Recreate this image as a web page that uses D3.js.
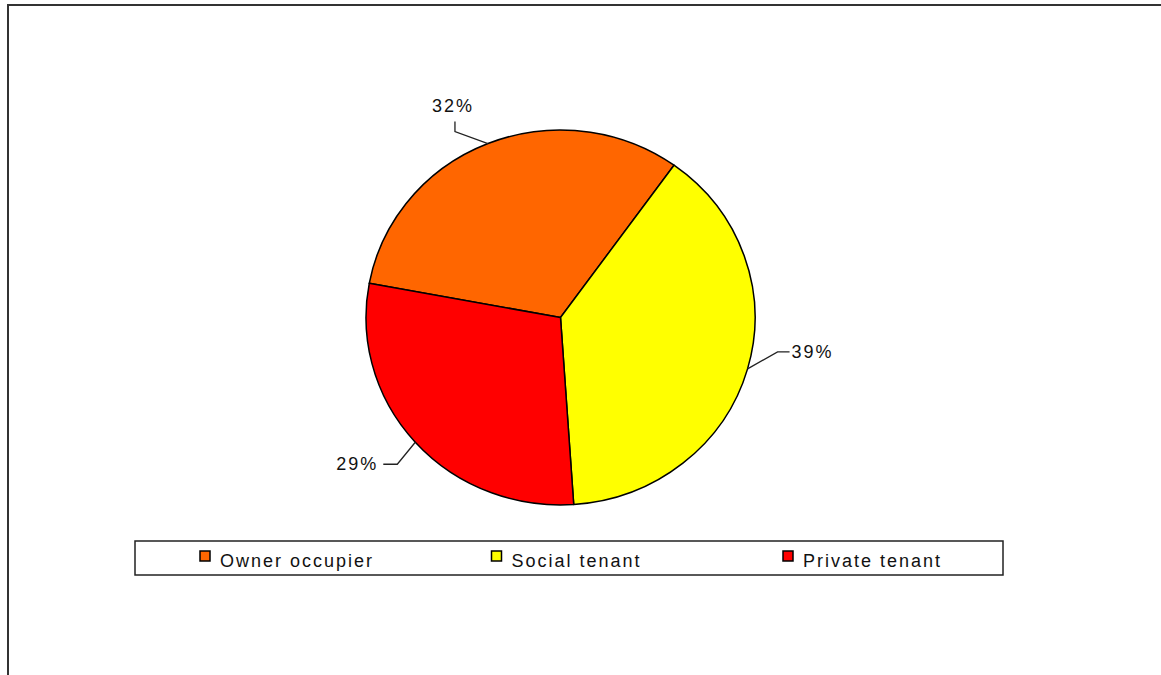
<!DOCTYPE html>
<html><head><meta charset="utf-8">
<script src="https://cdn.jsdelivr.net/npm/d3@7"></script>
<style>
html,body{margin:0;padding:0;background:#fff;}
text{font-family:"Liberation Sans",Arial,sans-serif;fill:#111;}
</style></head>
<body>
<svg id="chart" width="1161" height="675"></svg>
<script>
const categories = ["Owner occupier", "Social tenant", "Private tenant"];
const values = [32, 39, 29];
const labels = ["32%", "39%", "29%"];
const colors = ["#FF6600", "#FFFF00", "#FF0000"];

const svg = d3.select("#chart");

// outer frame
svg.append("rect").attr("x", 8).attr("y", 5).attr("width", 1170).attr("height", 700)
  .attr("fill", "#fff").attr("stroke", "#333").attr("stroke-width", 2);

const cx = 560.5, cy = 317.5, rx = 194.5, ry = 187.5;
const start = -79.5 * Math.PI / 180;
const pie = d3.pie().sort(null).value(d => d).startAngle(start).endAngle(start + 2 * Math.PI);
const arcs = pie(values);
const arc = d3.arc().innerRadius(0).outerRadius(ry);

const g = svg.append("g").attr("transform", `translate(${cx},${cy}) scale(${rx / ry},1)`);
g.selectAll("path").data(arcs).join("path")
  .attr("d", arc)
  .attr("fill", (d, i) => colors[i])
  .attr("stroke", "#000").attr("stroke-width", 1.5)
  .attr("vector-effect", "non-scaling-stroke")
  .attr("stroke-linejoin", "round");

// labels with leader lines
const leaders = [
  { elbow: [-33, -12], tail: [0, -10], anchor: "middle", tx: -2, ty: -10 },
  { elbow: [30, -17], tail: [12, 0], anchor: "start", tx: 2, ty: 6 },
  { elbow: [-18, 22], tail: [-14, 0], anchor: "end", tx: -5, ty: 6 }
];
arcs.forEach((d, i) => {
  const a = (d.startAngle + d.endAngle) / 2;
  const px = cx + rx * Math.sin(a), py = cy - ry * Math.cos(a);
  const L = leaders[i];
  const ex = px + L.elbow[0], ey = py + L.elbow[1];
  const tx = ex + L.tail[0], ty = ey + L.tail[1];
  svg.append("path")
    .attr("d", d3.line()([[px, py], [ex, ey], [tx, ty]]))
    .attr("fill", "none").attr("stroke", "#222").attr("stroke-width", 1.3);
  svg.append("text")
    .attr("x", tx + L.tx).attr("y", ty + L.ty)
    .attr("text-anchor", L.anchor)
    .attr("font-size", 18).attr("letter-spacing", 2)
    .text(labels[i]);
});

// legend
const legend = svg.append("g");
legend.append("rect").attr("x", 135).attr("y", 541).attr("width", 868).attr("height", 34)
  .attr("fill", "#fff").attr("stroke", "#222").attr("stroke-width", 1.5);
const lx = d3.scalePoint().domain(categories).range([200, 783]);
categories.forEach((c, i) => {
  const x = lx(c);
  legend.append("rect").attr("x", x).attr("y", 551).attr("width", 10).attr("height", 10)
    .attr("fill", colors[i]).attr("stroke", "#000").attr("stroke-width", 1.5);
  legend.append("text").attr("x", x + 20).attr("y", 567)
    .attr("font-size", 18).attr("letter-spacing", 2).text(c);
});
</script>
</body></html>
